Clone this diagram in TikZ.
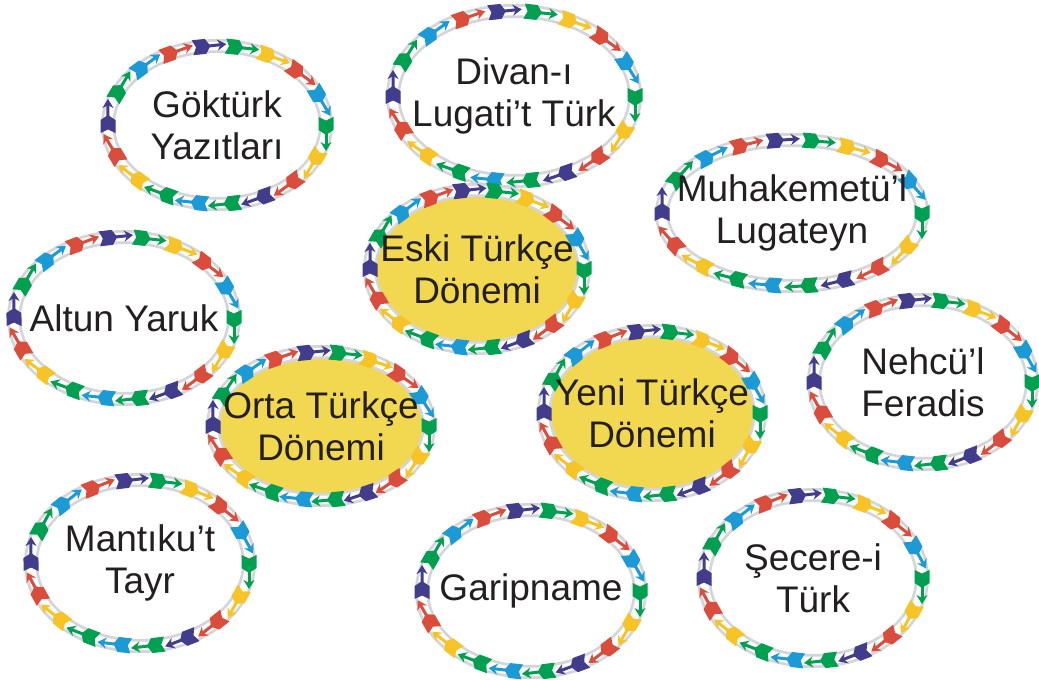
\documentclass[tikz,border=0pt]{standalone}
\usepackage{fontspec}
\setmainfont{Liberation Sans}
\usetikzlibrary{decorations.markings,arrows.meta}
\definecolor{cr}{RGB}{218,76,60}
\definecolor{cb}{RGB}{28,154,214}
\definecolor{cg}{RGB}{0,160,80}
\definecolor{cy}{RGB}{247,196,40}
\definecolor{cp}{RGB}{66,60,140}
\definecolor{ringgray}{RGB}{212,213,217}
\definecolor{bubyellow}{RGB}{242,216,80}
\definecolor{txtcol}{RGB}{35,31,32}
\newcommand\ringarrow[1]{%
  \begin{scope}[xscale=-1]
    \draw[#1, line width=3pt, -{Stealth[length=9pt,width=11pt,inset=3pt]}] (7,0) -- (26,0);
    \fill[#1] (-8,7.5) -- (-4.5,0) -- (-8,-7.5) -- (5,-7.5) -- (10,0) -- (5,7.5) -- cycle;
  \end{scope}}
\tikzset{
  txt/.style={font=\fontsize{37}{42}\selectfont, text=txtcol, align=center, inner sep=0pt},
  arrowring/.style={decoration={markings,
    mark=at position 0 with {\ringarrow{cg}},
    mark=at position 0.05556 with {\ringarrow{cb}},
    mark=at position 0.11111 with {\ringarrow{cr}},
    mark=at position 0.16667 with {\ringarrow{cy}},
    mark=at position 0.22222 with {\ringarrow{cg}},
    mark=at position 0.27778 with {\ringarrow{cp}},
    mark=at position 0.33333 with {\ringarrow{cr}},
    mark=at position 0.38889 with {\ringarrow{cb}},
    mark=at position 0.44444 with {\ringarrow{cg}},
    mark=at position 0.5 with {\ringarrow{cp}},
    mark=at position 0.55556 with {\ringarrow{cr}},
    mark=at position 0.61111 with {\ringarrow{cy}},
    mark=at position 0.66667 with {\ringarrow{cg}},
    mark=at position 0.72222 with {\ringarrow{cb}},
    mark=at position 0.77778 with {\ringarrow{cg}},
    mark=at position 0.83333 with {\ringarrow{cp}},
    mark=at position 0.88889 with {\ringarrow{cr}},
    mark=at position 0.94444 with {\ringarrow{cy}}}},
  ring/.style={draw=ringgray, line width=14pt,
    postaction={draw=white, line width=8.5pt},
    postaction={arrowring, decorate}}
}
% name, x, y, centre-line rx, ry, fill, text
\newcommand\bubble[7]{%
  \path[ring, fill=#6] (#2,-#3) ellipse [x radius=#4pt, y radius=#5pt];
  \node[txt] (#1) at (#2,-#3) {#7};}
\begin{document}
\begin{tikzpicture}[x=1pt,y=1pt]
\useasboundingbox (0,0) rectangle (1039,-680);
\fill[white] (0,0) rectangle (1039,-680);
\bubble{gokturk}{217}{125}{109}{79}{white}{Göktürk\\Yazıtları}
\bubble{divan}{514}{96}{121}{85}{white}{Divan-ı\\Lugati’t Türk}
\bubble{muhak}{792}{213}{130}{73}{white}{Muhakemetü’l\\Lugateyn}
\bubble{altun}{124}{318}{110}{81}{white}{Altun Yaruk}
\bubble{eski}{477}{269}{107}{79}{bubyellow}{Eski Türkçe\\Dönemi}
\bubble{nehcu}{923}{382}{109}{82}{white}{Nehcü’l\\Feradis}
\bubble{orta}{321}{426}{108}{74}{bubyellow}{Orta Türkçe\\Dönemi}
\bubble{yeni}{652}{413}{108}{82}{bubyellow}{Yeni Türkçe\\Dönemi}
\bubble{mantiku}{140}{563}{109}{83}{white}{Mantıku’t\\Tayr}
\bubble{garip}{531}{591}{109}{81}{white}{Garipname}
\bubble{secere}{813}{578}{109}{83}{white}{Şecere-i\\Türk}
\end{tikzpicture}
\end{document}
